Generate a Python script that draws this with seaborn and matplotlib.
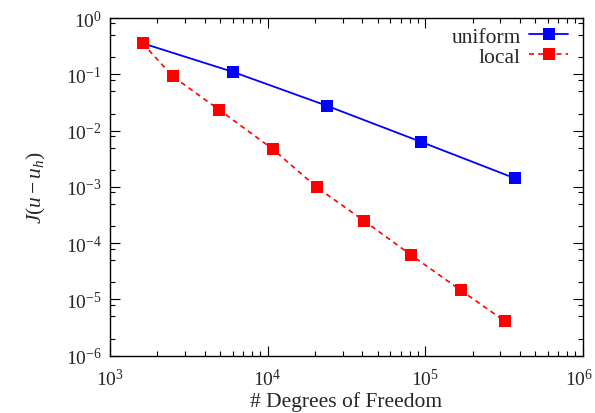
import numpy as np
import pandas as pd
import matplotlib
matplotlib.use("Agg")
import matplotlib.pyplot as plt
import matplotlib.ticker as mticker
import matplotlib.transforms as mtransforms
import seaborn as sns

# ==========================================
# DATA
# ==========================================
uniform_dofs = [1613, 6050, 23700, 93500, 371000]
uniform_err = [0.355, 0.110, 0.0277, 0.00635, 0.00142]

local_dofs = [1613, 2500, 4920, 10760, 20560, 40900, 81300, 168000, 319000]
local_err = [0.355, 0.092, 0.0235, 0.00471, 0.00098, 0.00025, 6.17e-5, 1.46e-5, 4.15e-6]

x_major = [1e3, 1e4, 1e5, 1e6]
y_major = [1e-6, 1e-5, 1e-4, 1e-3, 1e-2, 1e-1, 1e0]

df_uni = pd.DataFrame({"dofs": uniform_dofs, "err": uniform_err})
df_loc = pd.DataFrame({"dofs": local_dofs, "err": local_err})

# ==========================================
# STYLE
# ==========================================
sns.set_theme(style="ticks")
plt.rcParams["font.family"] = ["Liberation Serif", "DejaVu Serif"]
plt.rcParams["mathtext.fontset"] = "custom"
plt.rcParams["mathtext.rm"] = "Liberation Serif"
plt.rcParams["mathtext.it"] = "Liberation Serif:italic"
plt.rcParams["axes.linewidth"] = 1.0
plt.rcParams["axes.edgecolor"] = "black"

fs = 15.5
tfs = 14

fig = plt.figure(figsize=(5.95, 4.14), dpi=100)
ax = fig.add_axes([110 / 595, 1 - 356.7 / 414, (582.7 - 110) / 595, (356.7 - 19) / 414])

sns.lineplot(data=df_uni, x="dofs", y="err", ax=ax, color="#0000ff", marker="s",
             markersize=8, markeredgewidth=0, linewidth=1.3, label="uniform")
sns.lineplot(data=df_loc, x="dofs", y="err", ax=ax, color="#ff0000", marker="s",
             markersize=8, markeredgewidth=0, linewidth=1.2, dashes=(3, 2.5),
             label="local")

ax.set_xscale("log")
ax.set_yscale("log")
ax.set_xlim(1e3, 1e6)
ax.set_ylim(1e-6, 1e0)

ax.xaxis.set_major_locator(mticker.FixedLocator(x_major))
ax.yaxis.set_major_locator(mticker.FixedLocator(y_major))
ax.xaxis.set_minor_locator(mticker.LogLocator(base=10, subs=np.arange(2, 10), numticks=20))
ax.yaxis.set_minor_locator(mticker.LogLocator(base=10, subs=(2, 5, 8), numticks=20))
ax.xaxis.set_major_formatter(mticker.LogFormatterSciNotation())
ax.yaxis.set_major_formatter(mticker.LogFormatterSciNotation())
ax.xaxis.set_minor_formatter(mticker.NullFormatter())
ax.yaxis.set_minor_formatter(mticker.NullFormatter())

ax.tick_params(which="both", direction="in", top=True, right=True, color="black",
               labelsize=tfs, width=0.8)
ax.tick_params(which="major", length=7)
ax.tick_params(axis="y", which="major", pad=6)
ax.tick_params(axis="x", which="major", pad=9)
ax.tick_params(which="minor", length=3.5)

ax.set_xlabel("# Degrees of Freedom", fontsize=fs, labelpad=1)
ax.set_ylabel(r"$J(u-u_h)$", fontsize=fs, labelpad=13)

ax.legend(loc="upper right", bbox_to_anchor=(0.969, 0.975), frameon=False,
          markerfirst=False, fontsize=fs, handlelength=1.8, numpoints=1,
          borderaxespad=0.0, borderpad=0.0, labelspacing=0.0, handletextpad=0.4)

for s in ax.spines.values():
    s.set_visible(True)

# nudge the 10^6 tick label so it stays inside the figure
fig.canvas.draw()
for tick in ax.xaxis.get_major_ticks():
    if np.isclose(tick.get_loc(), 1e6):
        lbl = tick.label1
        lbl.set_transform(lbl.get_transform() +
                          mtransforms.ScaledTranslation(-4 / 100, 0, fig.dpi_scale_trans))

fig.savefig("out.png", dpi=100)
